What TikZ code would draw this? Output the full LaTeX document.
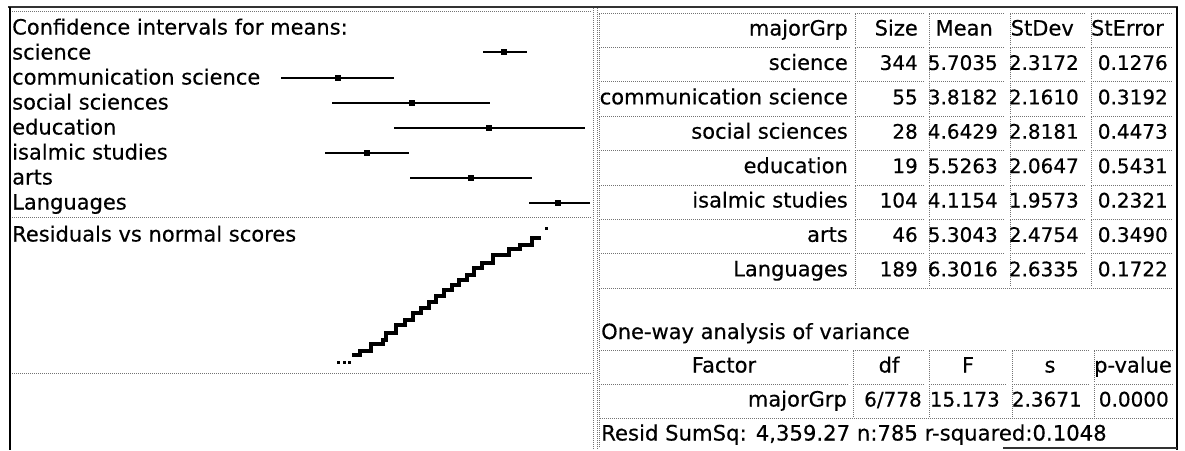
\documentclass[tikz,border=0pt]{standalone}
\usepackage{fontspec}
\setmainfont{DejaVu Sans}[FakeBold=0.35]
\begin{document}
\begin{tikzpicture}[x=1pt,y=-1pt,
  txt/.style={inner sep=0pt, font=\fontsize{21}{25}\selectfont},
  ntxt/.style={inner sep=0pt, font=\fontsize{20}{24}\selectfont},
  dotln/.style={draw=black!55, line width=0.8pt, dash pattern=on 1pt off 1pt},
  bar/.style={line width=2.4pt, draw=black},
  mdot/.style={fill=black, draw=none, rectangle, minimum size=5.5pt, inner sep=0pt},
  sdot/.style={fill=black, draw=none, rectangle, minimum size=3pt, inner sep=0pt},
  frame/.style={draw=black!80, line width=2pt}]
\useasboundingbox (0,0) rectangle (1185,450);
\fill[white] (0,0) rectangle (1185,450);

% ---------- outer frame ----------
\draw[frame] (8,7) -- (1178,7);
\draw[frame, draw=black] (10,7) -- (10,450);
\draw[line width=2.6pt] (1177,7) -- (1177,450);
\draw[line width=1.6pt, black!80] (1003,448) -- (1177,448);
\draw[dotln] (593,8) -- (593,450);
\draw[dotln] (12,11) -- (592,11);
\draw[dotln] (12,217) -- (592,217);
\draw[dotln] (12,373) -- (592,373);

% ---------- confidence intervals ----------
\node[txt, anchor=base west] (cititle) at (12,34.5) {Confidence intervals for means:};
\node[txt, anchor=base west] (c1) at (12,59.5) {science};
\node[txt, anchor=base west] (c2) at (12,84.5) {communication science};
\node[txt, anchor=base west] (c3) at (12,109.5) {social sciences};
\node[txt, anchor=base west] (c4) at (12,134.5) {education};
\node[txt, anchor=base west] (c5) at (12,159.5) {isalmic studies};
\node[txt, anchor=base west] (c6) at (12,184.5) {arts};
\node[txt, anchor=base west] (c7) at (12,209.5) {Languages};

\coordinate (l1) at (483,52);  \coordinate (h1) at (527,52);  \node[mdot] (m1) at (504,52) {};
\coordinate (l2) at (281,78);  \coordinate (h2) at (394,78);  \node[mdot] (m2) at (338,78) {};
\coordinate (l3) at (332,103); \coordinate (h3) at (490,103); \node[mdot] (m3) at (412,103) {};
\coordinate (l4) at (394,128); \coordinate (h4) at (585,128); \node[mdot] (m4) at (489,128) {};
\coordinate (l5) at (325,153); \coordinate (h5) at (409,153); \node[mdot] (m5) at (367,153) {};
\coordinate (l6) at (410,178); \coordinate (h6) at (532,178); \node[mdot] (m6) at (471,178) {};
\coordinate (l7) at (529,203); \coordinate (h7) at (590,203); \node[mdot] (m7) at (558,203) {};
\foreach \k in {1,...,7} { \draw[bar] (l\k) -- (h\k); }

% ---------- residuals vs normal scores ----------
\node[txt, anchor=base west] (restitle) at (12,241.5) {Residuals vs normal scores};
\node[sdot] (r1) at (338,362) {};
\node[sdot] (r2) at (344,362) {};
\node[sdot] (r3) at (349,362) {};
\node[sdot] (r4) at (546,228) {};
\draw[line width=3.4pt] (352,355) -| (360,351) -| (371,344) -| (383,340) -| (386,333)
  -| (396,325) -| (405,320) -| (413,313) -| (421,308) -| (429,302) -| (436,296)
  -| (444,290) -| (452,285) -| (459,280) -| (467,275) -| (474,268) -| (482,263)
  -| (493,255) -| (509,249) -| (520,245) -| (532,238) -- (541,238);

% ---------- summary table ----------
\draw[dotln] (597,8) -- (597,450);
\foreach \i in {0,...,7} {
  \pgfmathsetmacro{\t}{12+34.4*\i}
  \foreach \a/\b in {598/852,854/926,928/1007,1009/1088,1090/1175} {
    \draw[dotln] (\a+1,\t+33) -- (\a+1,\t+1) -- (\b-2,\t+1);
  }
}
\node[txt, anchor=base east] (hg) at (848,35.5) {majorGrp};
\node[txt, anchor=base east] (hn) at (918,35.5) {Size};
\node[txt, anchor=base east] (hm) at (993,35.5) {Mean};
\node[txt, anchor=base east] (hs) at (1074,35.5) {StDev};
\node[txt, anchor=base east] (he) at (1164,35.5) {StError};
\foreach \i/\g/\n/\m/\s/\e in {
  1/science/344/5.7035/2.3172/0.1276,
  2/communication science/55/3.8182/2.1610/0.3192,
  3/social sciences/28/4.6429/2.8181/0.4473,
  4/education/19/5.5263/2.0647/0.5431,
  5/isalmic studies/104/4.1154/1.9573/0.2321,
  6/arts/46/5.3043/2.4754/0.3490,
  7/Languages/189/6.3016/2.6335/0.1722} {
  \pgfmathsetmacro{\yb}{12+34.4*\i+23.5}
  \node[txt, anchor=base east] (g\i) at (848,\yb) {\g};
  \node[ntxt, anchor=base east] (n\i) at (918,\yb) {\n};
  \node[ntxt, anchor=base east] (m\i) at (998,\yb) {\m};
  \node[ntxt, anchor=base east] (s\i) at (1079,\yb) {\s};
  \node[ntxt, anchor=base east] (e\i) at (1168,\yb) {\e};
}

% ---------- one-way analysis of variance ----------
\draw[dotln] (599,348) -- (599,288) -- (1173,288);
\node[txt, anchor=base west] (owtitle) at (601,339) {One-way analysis of variance};
\foreach \t in {349,383.5} {
  \foreach \a/\b in {598/850,852/926,928/1009,1011/1091,1093/1175} {
    \draw[dotln] (\a+1,\t+33) -- (\a+1,\t+1) -- (\b-2,\t+1);
  }
}
\node[txt, anchor=base] (af) at (724,372.5) {Factor};
\node[txt, anchor=base] (adf) at (889,372.5) {df};
\node[txt, anchor=base] (aF) at (968,372.5) {F};
\node[txt, anchor=base] (as) at (1050,372.5) {s};
\node[txt, anchor=base] (ap) at (1133,372.5) {p-value};
\node[txt, anchor=base east] (bg) at (847,406.5) {majorGrp};
\node[ntxt, anchor=base east] (bdf) at (922,406.5) {6/778};
\node[ntxt, anchor=base east] (bF) at (1000,406.5) {15.173};
\node[ntxt, anchor=base east] (bs) at (1082,406.5) {2.3671};
\node[ntxt, anchor=base east] (bp) at (1169,406.5) {0.0000};
\draw[dotln] (599,447) -- (599,418) -- (1173,418);
\node[inner sep=0pt, font=\fontsize{21.2}{25}\selectfont, anchor=base west] (resid) at (601,440.5) {Resid SumSq: 4,359.27 n:785 r-squared:0.1048};
\end{tikzpicture}
\end{document}
